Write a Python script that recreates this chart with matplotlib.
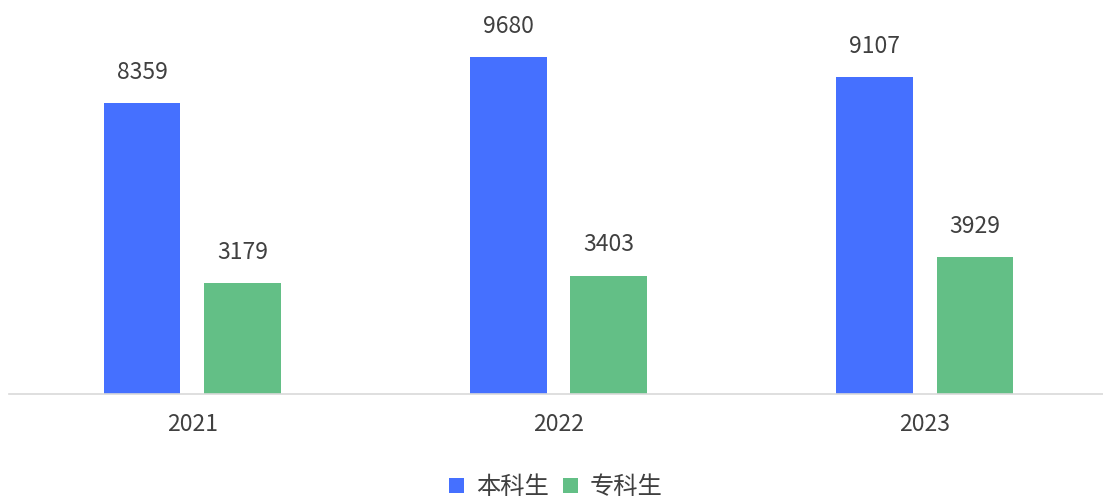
import matplotlib
matplotlib.use("Agg")
import matplotlib.pyplot as plt
import numpy as np

plt.rcParams['font.family'] = ['Noto Sans CJK SC', 'DejaVu Sans']

years = ["2021", "2022", "2023"]
undergrad = [8359, 9680, 9107]
junior = [3179, 3403, 3929]
series_names = ["本科生", "专科生"]

blue = "#4570FF"
green = "#63BF86"
text_color = "#404040"

fig = plt.figure(figsize=(11.03, 5.01), dpi=100)
W, H = 1103, 501
left, right = 9, 1108
bottom_px, top_px = 394, 11
ax = fig.add_axes([left / W, 1 - bottom_px / H, (right - left) / W, (bottom_px - top_px) / H])

x = np.arange(len(years))
bw = 0.21
off = 0.137
b1 = ax.bar(x - off, undergrad, bw, color=blue, label=series_names[0])
b2 = ax.bar(x + off, junior, bw, color=green, label=series_names[1])

for bars, vals in ((b1, undergrad), (b2, junior)):
    for r, v in zip(bars, vals):
        ax.annotate(f"{v}", (r.get_x() + r.get_width() / 2, v), xytext=(0, 22),
                    textcoords="offset points", ha="center", va="center",
                    fontsize=16.5, color=text_color)

ax.set_xlim(-0.5, 2.5)
ax.set_ylim(0, 11000)
ax.set_yticks([])
ax.set_xticks(x)
ax.set_xticklabels(years, fontsize=16.5, color=text_color)
ax.tick_params(axis="x", length=0, pad=14)
for s in ("top", "right", "left"):
    ax.spines[s].set_visible(False)
ax.spines["bottom"].set_color("#d9d9d9")
ax.spines["bottom"].set_linewidth(1.2)

fig.legend(handles=[b1, b2], labels=series_names, loc="center",
           bbox_to_anchor=(556 / W, 1 - 487 / H), ncol=2, frameon=False,
           fontsize=17.5, handlelength=0.6, handleheight=0.6, handletextpad=0.5,
           columnspacing=0.6, labelcolor=text_color)

fig.savefig("out.png", dpi=100)
